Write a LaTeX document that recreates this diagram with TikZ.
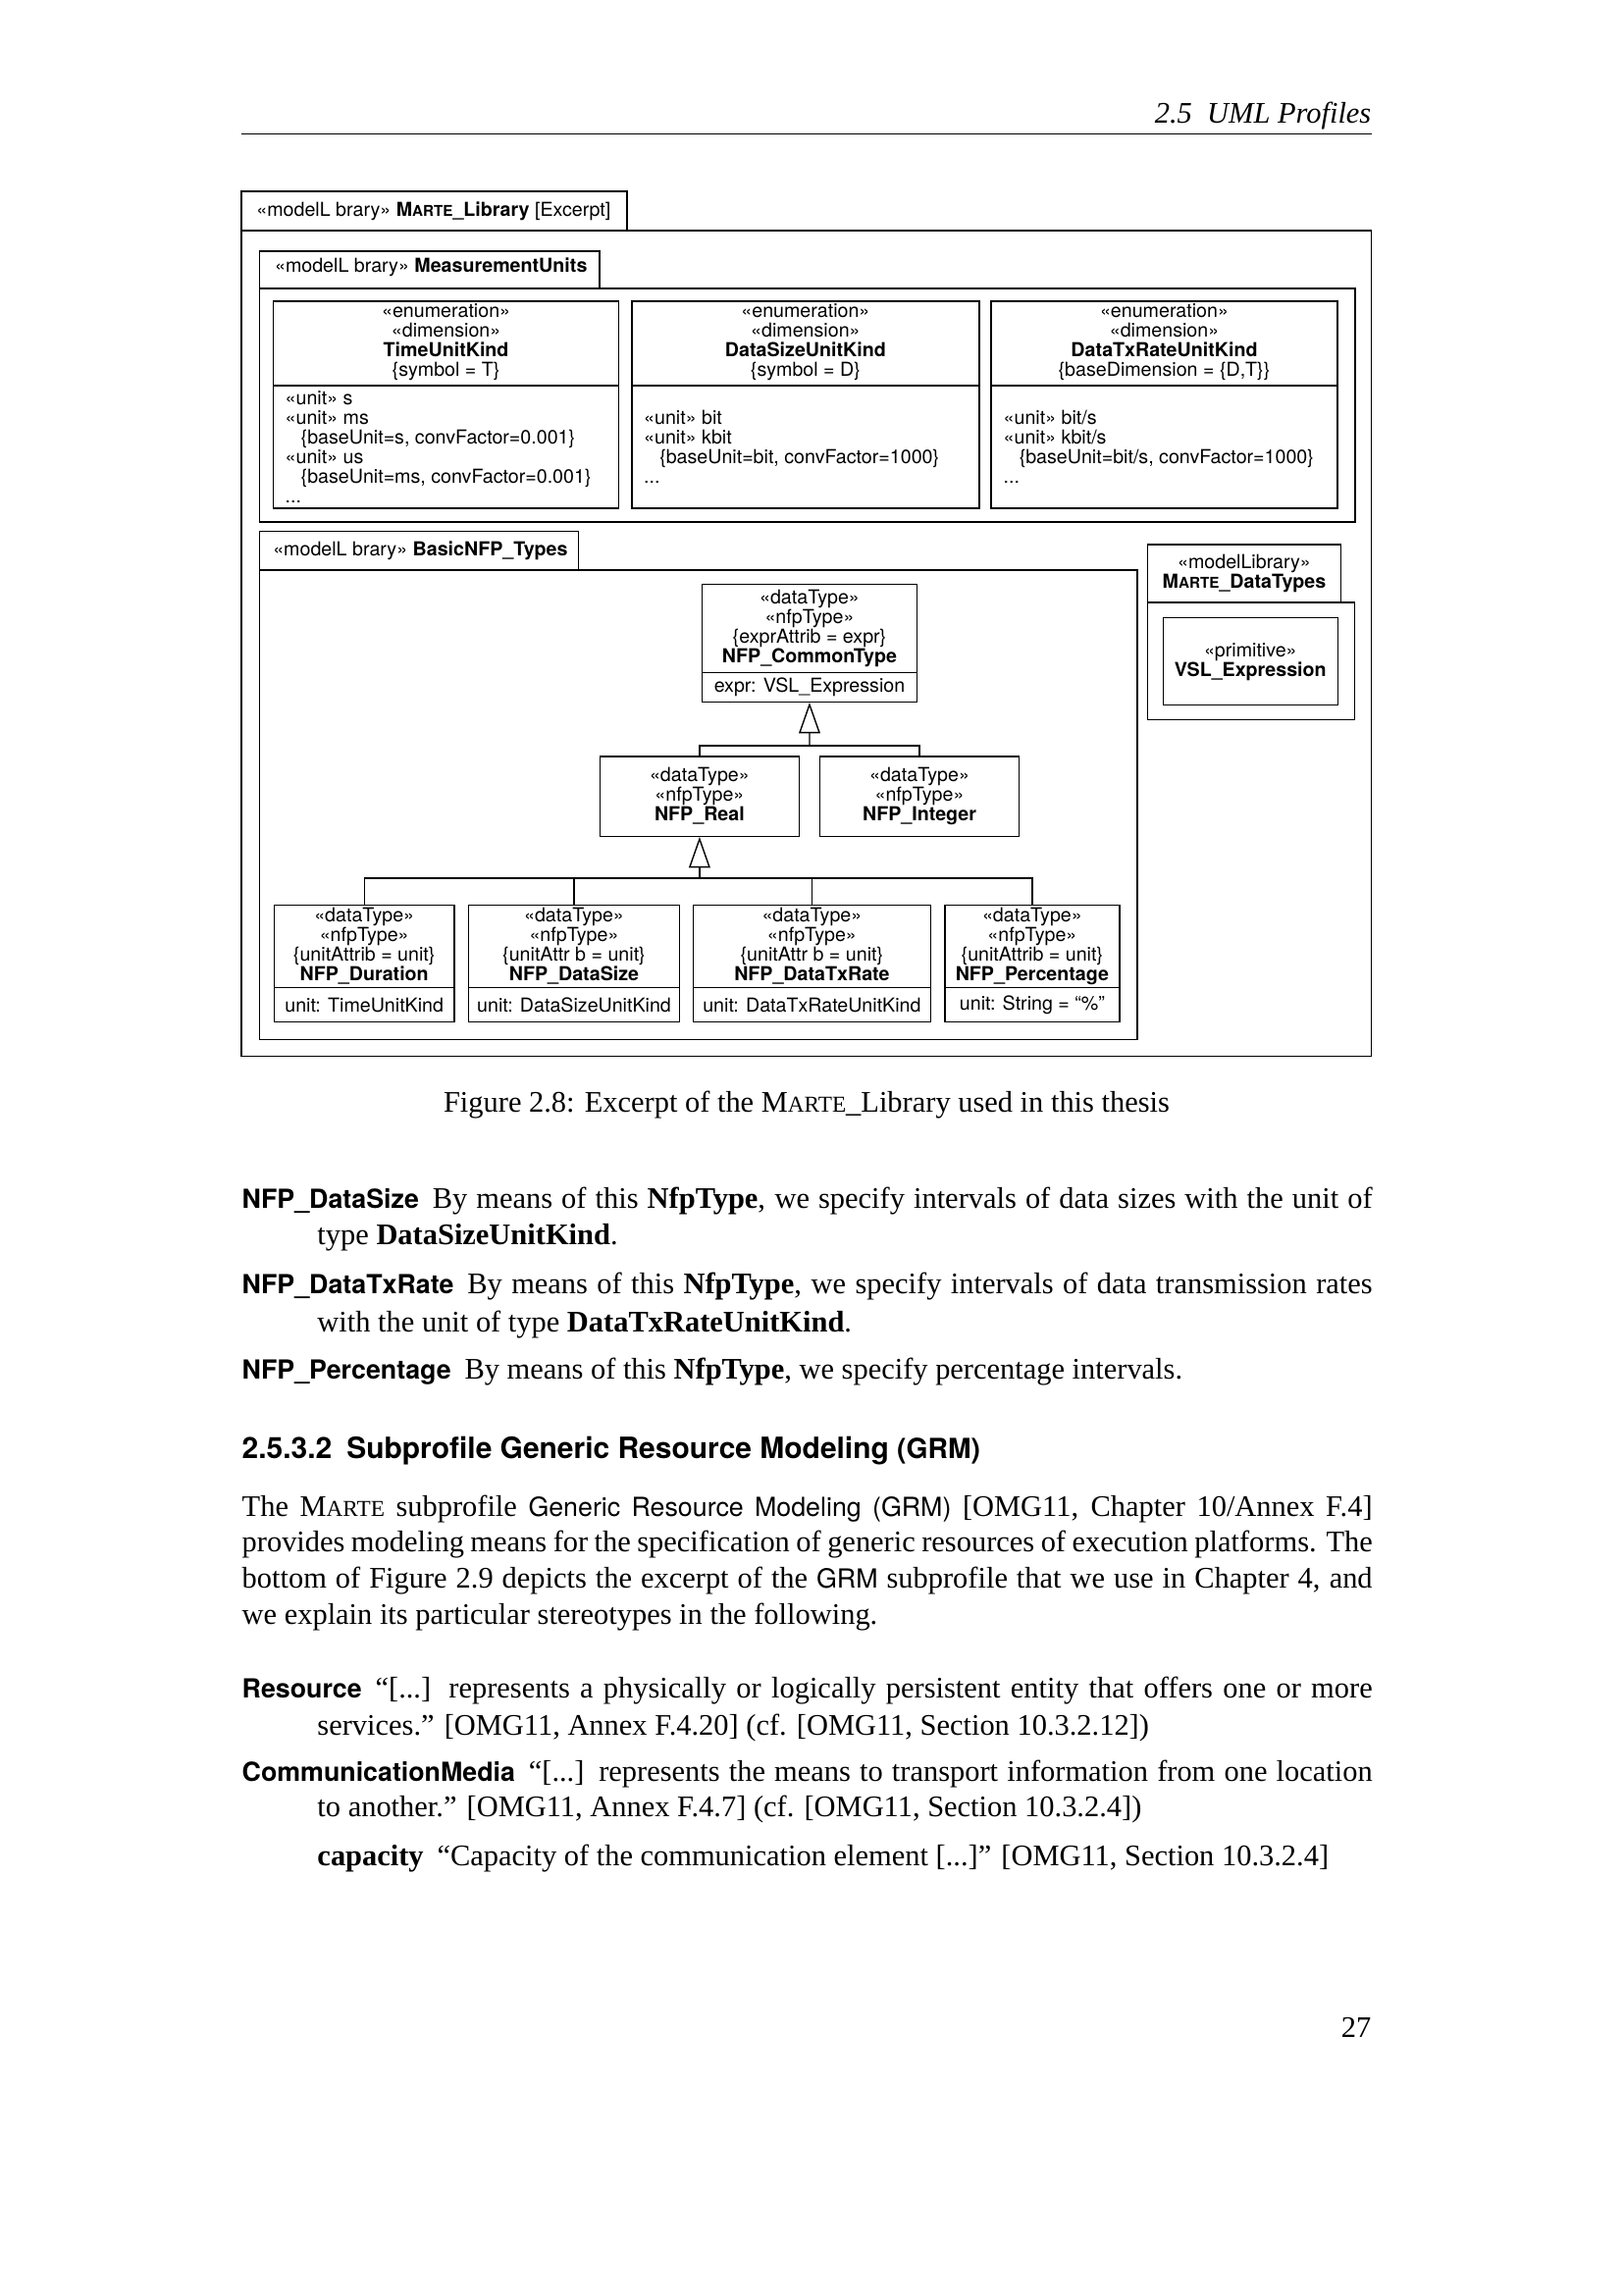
\documentclass[tikz,border=0pt]{standalone}
\usepackage{fontspec}
\setmainfont{Liberation Serif}
\setsansfont[Scale=0.88]{TeX Gyre Heros}
\newfontfamily\umlfont{TeX Gyre Heros}
\usetikzlibrary{arrows.meta,fit}

\newlength\fullw \setlength\fullw{146.3mm}
\newcommand\umlsc[1]{{\fontsize{5.5}{7.2}\selectfont #1}}
\newcommand\txtsc[1]{{\fontsize{8.4}{13}\selectfont #1}}
\newcommand\itemlab[1]{\textsf{\bfseries #1}}

\tikzset{every picture/.style={line width=0.5pt}}
\tikzset{
  uml/.style={font=\umlfont\fontsize{7.1}{7.2}\selectfont, align=center, inner sep=0pt},
  umlbody/.style={uml, align=left, anchor=west},
  umltab/.style={uml, anchor=west},
  classbox/.style={draw, inner sep=0pt},
  gen/.style={-{Triangle[open,length=11.3pt,width=7.8pt]}},
  txt/.style={anchor=base west, inner sep=0pt, font=\fontsize{11}{13.2}\selectfont},
}

\begin{document}
\begin{tikzpicture}[x=0.127mm,y=0.127mm,yscale=-1,xscale=1]
	\useasboundingbox (0,0) rectangle (1654,2339);

	% Running head
	\node[txt, anchor=base east, font=\itshape\fontsize{11}{13.2}\selectfont] (runhead) at (1398,125.5) {2.5\enskip UML Profiles};
	%Straight Lines
	\draw [line width=0.4pt] (246,136.7) -- (1398,136.7) ;

	%Shape: Package MARTE_Library
	\draw (246,195) rectangle (639,235) ;
	\draw (246,235) rectangle (1397.5,1076.7) ;
	% Text Node
	\node[umltab] (lib-tab) at (260.7,215) {«modelL brary» \textbf{M\umlsc{ARTE}\_Library} [Excerpt]};

	%Shape: Package MeasurementUnits
	\draw (264.5,256) rectangle (611,294) ;
	\draw (264.5,294) rectangle (1381,532) ;
	% Text Node
	\node[umltab] (mu-tab) at (279.4,272) {«modelL brary» \textbf{MeasurementUnits}};

	%Shape: Class TimeUnitKind
	\node[classbox, fit={(278.6,307) (630.6,518)}] (tuk) {};
	\draw (278.6,393) -- (630.6,393) ;
	\node[uml] (tuk-head) at (454.6,349) {«enumeration»\\«dimension»\\\textbf{TimeUnitKind}\\\{symbol = T\}};
	\node[umlbody] (tuk-body) at (290,455.5) {«unit» s\\«unit» ms\\\hspace*{5.8pt}\{baseUnit=s, convFactor=0.001\}\\«unit» us\\\hspace*{5.8pt}\{baseUnit=ms, convFactor=0.001\}\\...};

	%Shape: Class DataSizeUnitKind
	\node[classbox, fit={(644,307) (997.8,518)}] (dsuk) {};
	\draw (644,393) -- (997.8,393) ;
	\node[uml] (dsuk-head) at (820.9,349) {«enumeration»\\«dimension»\\\textbf{DataSizeUnitKind}\\\{symbol = D\}};
	\node[umlbody] (dsuk-body) at (655.5,455.5) {«unit» bit\\«unit» kbit\\\hspace*{5.8pt}\{baseUnit=bit, convFactor=1000\}\\...};

	%Shape: Class DataTxRateUnitKind
	\node[classbox, fit={(1010,307) (1363,518)}] (dtruk) {};
	\draw (1010,393) -- (1363,393) ;
	\node[uml] (dtruk-head) at (1186.5,349) {«enumeration»\\«dimension»\\\textbf{DataTxRateUnitKind}\\\{baseDimension = \{D,T\}\}};
	\node[umlbody] (dtruk-body) at (1022,455.5) {«unit» bit/s\\«unit» kbit/s\\\hspace*{5.8pt}\{baseUnit=bit/s, convFactor=1000\}\\...};

	%Shape: Package BasicNFP_Types
	\draw (264.5,541.7) rectangle (589.6,581) ;
	\draw (264.5,581) rectangle (1159,1059.3) ;
	% Text Node
	\node[umltab] (nfp-tab) at (277.6,561) {«modelL brary» \textbf{BasicNFP\_Types}};

	%Shape: Class NFP_CommonType
	\node[classbox, fit={(715.6,595.7) (934.3,715.3)}] (common) {};
	\draw (715.6,685.7) -- (934.3,685.7) ;
	\node[uml] (common-head) at (825,640.7) {«dataType»\\«nfpType»\\\{exprAttrib = expr\}\\\textbf{NFP\_CommonType}};
	\node[uml] (common-body) at (825,700.5) {expr: VSL\_Expression};

	%Shape: Class NFP_Real
	\node[classbox, fit={(611.4,771) (814.4,852.3)}] (real) {};
	\node[uml] (real-head) at (712.9,811.5) {«dataType»\\«nfpType»\\\textbf{NFP\_Real}};

	%Shape: Class NFP_Integer
	\node[classbox, fit={(835.6,771) (1038.5,852.3)}] (integer) {};
	\node[uml] (integer-head) at (937,811.5) {«dataType»\\«nfpType»\\\textbf{NFP\_Integer}};

	%Shape: Class NFP_Duration
	\node[classbox, fit={(279.4,922.3) (463,1041.7)}] (duration) {};
	\draw (279.4,1006.7) -- (463,1006.7) ;
	\node[uml] (duration-head) at (371.2,964.5) {«dataType»\\«nfpType»\\\{unitAttrib = unit\}\\\textbf{NFP\_Duration}};
	\node[uml] (duration-body) at (371.2,1024.2) {unit: TimeUnitKind};

	%Shape: Class NFP_DataSize
	\node[classbox, fit={(477.5,922.3) (692.6,1041.7)}] (datasize) {};
	\draw (477.5,1006.7) -- (692.6,1006.7) ;
	\node[uml] (datasize-head) at (585,964.5) {«dataType»\\«nfpType»\\\{unitAttr b = unit\}\\\textbf{NFP\_DataSize}};
	\node[uml] (datasize-body) at (585,1024.2) {unit: DataSizeUnitKind};

	%Shape: Class NFP_DataTxRate
	\node[classbox, fit={(706.5,922.3) (948.3,1041.7)}] (datatxrate) {};
	\draw (706.5,1006.7) -- (948.3,1006.7) ;
	\node[uml] (datatxrate-head) at (827.4,964.5) {«dataType»\\«nfpType»\\\{unitAttr b = unit\}\\\textbf{NFP\_DataTxRate}};
	\node[uml] (datatxrate-body) at (827.4,1024.2) {unit: DataTxRateUnitKind};

	%Shape: Class NFP_Percentage
	\node[classbox, fit={(962.8,922.3) (1141,1041.7)}] (percentage) {};
	\draw (962.8,1006.7) -- (1141,1006.7) ;
	\node[uml] (percentage-head) at (1051.9,964.5) {«dataType»\\«nfpType»\\\{unitAttrib = unit\}\\\textbf{NFP\_Percentage}};
	\node[uml] (percentage-body) at (1051.9,1024.2) {unit: String = “\%”};

	%Shape: Package MARTE_DataTypes
	\draw (1169.3,555) rectangle (1366.7,614) ;
	\draw (1169.3,614) rectangle (1380.7,733.3) ;
	\node[uml] (mdt-tab) at (1268,584.5) {«modelLibrary»\\\textbf{M\umlsc{ARTE}\_DataTypes}};
	\node[classbox, fit={(1185.3,629.3) (1363.3,718.3)}] (vsl) {};
	\node[uml] (vsl-head) at (1274.3,675) {«primitive»\\\textbf{VSL\_Expression}};

	%Generalizations
	\coordinate (jcommon) at (825,760);
	\draw [gen] (jcommon) -- (common.south) ;
	\draw (real.north) |- (jcommon) -| (integer.north) ;
	\coordinate (jbasic) at (712.9,895);
	\draw [gen] (jbasic) -- (real.south) ;
	\draw (duration.north) |- (jbasic) -| (percentage.north) ;
	\draw (datasize.north) |- (jbasic) ;
	\draw (datatxrate.north) |- (jbasic) ;

	% Text Node
	\node[txt, anchor=base] (caption) at (822,1133.5) {Figure 2.8: Excerpt of the M\txtsc{ARTE}\_Library used in this thesis};

	% Text Node
	\node[txt] (ds-1) at (246,1231.7) {\makebox[\fullw][s]{\itemlab{NFP\_DataSize}\hspace{5pt}By means of this \textbf{NfpType}, we specify intervals of data sizes with the unit of}};
	\node[txt] (ds-2) at (322.8,1268) {type \textbf{DataSizeUnitKind}.};
	\node[txt] (dtr-1) at (246,1318) {\makebox[\fullw][s]{\itemlab{NFP\_DataTxRate}\hspace{5pt}By means of this \textbf{NfpType}, we specify intervals of data transmission rates}};
	\node[txt] (dtr-2) at (322.8,1357) {with the unit of type \textbf{DataTxRateUnitKind}.};
	\node[txt] (pc-1) at (246,1405) {\itemlab{NFP\_Percentage}\hspace{5pt}By means of this \textbf{NfpType}, we specify percentage intervals.};

	% Text Node
	\node[txt, font=\sffamily\bfseries\fontsize{12.3}{15}\selectfont] (sec) at (246,1486.7) {2.5.3.2\enskip Subprofile Generic Resource Modeling {\fontsize{11.6}{13}\selectfont(GRM)}};

	% Text Node
	\node[txt] (p-1) at (246,1545) {\makebox[\fullw][s]{The M\txtsc{ARTE} subprofile \textsf{Generic Resource Modeling (GRM)} [OMG11, Chapter 10/Annex F.4]}};
	\node[txt] (p-2) at (246,1581.7) {\makebox[\fullw][s]{provides modeling means for the specification of generic resources of execution platforms. The}};
	\node[txt] (p-3) at (246,1618) {\makebox[\fullw][s]{bottom of Figure 2.9 depicts the excerpt of the \textsf{GRM} subprofile that we use in Chapter 4, and}};
	\node[txt] (p-4) at (246,1655) {we explain its particular stereotypes in the following.};

	% Text Node
	\node[txt] (res-1) at (246,1730) {\makebox[\fullw][s]{\itemlab{Resource}\hspace{5pt}“[...] represents a physically or logically persistent entity that offers one or more}};
	\node[txt] (res-2) at (322.8,1768) {services.” [OMG11, Annex F.4.20] (cf. [OMG11, Section 10.3.2.12])};
	\node[txt] (cm-1) at (246,1815) {\makebox[\fullw][s]{\itemlab{CommunicationMedia}\hspace{5pt}“[...] represents the means to transport information from one location}};
	\node[txt] (cm-2) at (322.8,1851.7) {to another.” [OMG11, Annex F.4.7] (cf. [OMG11, Section 10.3.2.4])};
	\node[txt] (cap) at (322.8,1901.7) {\textbf{capacity}\hspace{5pt}“Capacity of the communication element [...]” [OMG11, Section 10.3.2.4]};

	% Text Node
	\node[txt, anchor=base east] (pageno) at (1398,2076.7) {27};

\end{tikzpicture}
\end{document}
